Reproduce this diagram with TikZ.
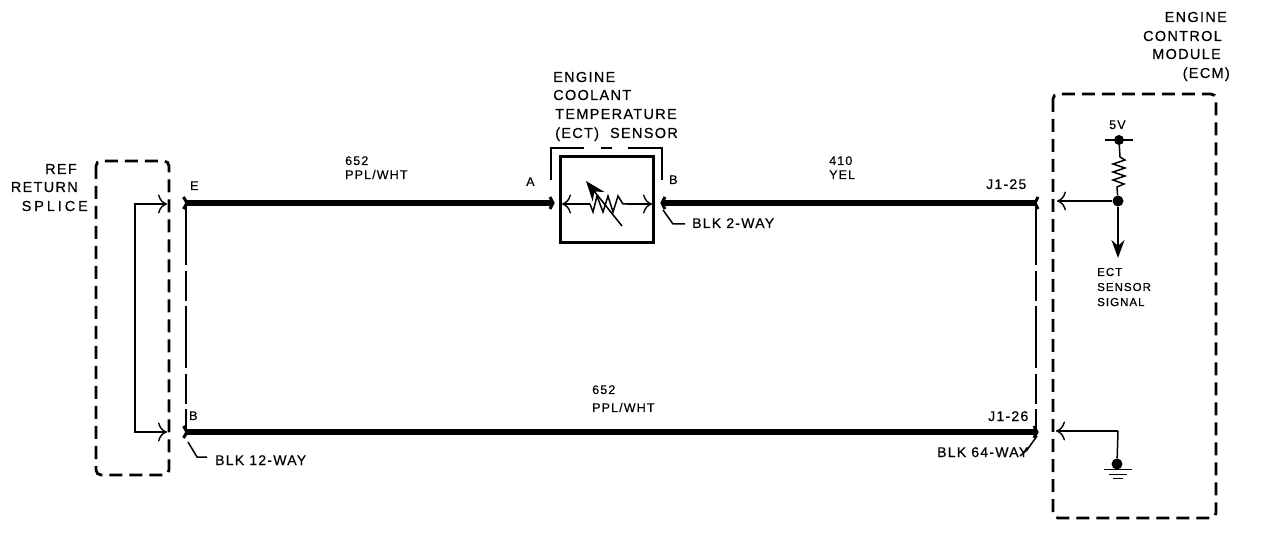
\documentclass[tikz,border=0pt]{standalone}
\usepackage{fontspec}
\setmainfont[LetterSpace=9,FakeBold=0.5]{Liberation Sans}
\usetikzlibrary{arrows.meta}
\tikzset{
  x=1pt,y=-1pt,
  wire/.style={line width=6pt},
  thin line/.style={line width=1.5pt},
  module/.style={line width=2.8pt,dash pattern=on 13pt off 7pt,rounded corners=5pt},
  harness/.style={line width=1.6pt,dash pattern=on 62pt off 6pt on 30pt off 5pt},
  openarrow/.style={thin line,-{To[length=9pt,width=19pt,line width=1.4pt]}},
  chev/.style={line width=3pt},
  lbl/.style={inner sep=0pt,font=\fontsize{12.5}{14}\selectfont,anchor=base west},
  lblw/.style={inner sep=0pt,font=\fontsize{14}{16}\selectfont,anchor=base west},
  lbln/.style={inner sep=0pt,font=\fontsize{11.5}{14}\selectfont,anchor=base west},
  biglbl/.style={inner sep=0pt,font=\fontsize{14.5}{17}\selectfont,anchor=base west},
  dot/.style={circle,fill=black,inner sep=0pt,minimum size=11pt},
}
\begin{document}
\begin{tikzpicture}
\useasboundingbox (0,0) rectangle (1264,534);
% terminal coordinates
\coordinate (E) at (186,203);
\coordinate (A) at (551,203);
\coordinate (SB) at (662,203);
\coordinate (J25) at (1036,203);
\coordinate (BL) at (186,432);
\coordinate (J26) at (1036,432);
% dashed modules
\draw[module] (96,161) rectangle (169,475);
\draw[module] (1053,94) rectangle (1216,518);
% wires
\draw[wire] (E) -- (A);
\draw[wire] (SB) -- (J25);
\draw[wire] (BL) -- (J26);
\draw[harness] (E) -- (BL);
\draw[harness] (J25) -- (J26);
% chevrons at connectors
\draw[chev] (183.5,197) -- (187,203) -- (183.5,209);
\draw[chev] (183.5,426) -- (187,432) -- (183.5,438);
\draw[chev] (550,197) -- (553,203) -- (550,209);
\draw[chev] (665,197) -- (662,203) -- (665,209);
\draw[chev] (1038,197) -- (1035,203) -- (1038,209);
\draw[chev] (1034,426) -- (1037,432) -- (1034,438);
% splice
\coordinate (SpA) at (167,204);
\coordinate (SpB) at (167,432);
\draw[openarrow] (135,204) -- (SpA);
\draw[openarrow] (135,432) -- (SpB);
\draw[thin line] (135,203.3) -- (135,432.7);
% sensor
\node[draw,line width=3pt,minimum width=93pt,minimum height=86pt,inner sep=0pt] (sensor) at (606.5,200) {};
\draw[line width=1.5pt] (551,180) -- (551,148) -- (584,148) (601,148) -- (612,148) (628,148) -- (662,148) -- (662,180);
\draw[thin line,-{To[length=9pt,width=19pt,line width=1.4pt]}] (590,204) -- (562,204);
\draw[thin line,-{To[length=9pt,width=19pt,line width=1.4pt]}] (627,204) -- (652,204);
\draw[thin line] (590,204) -- (593,212) -- (597,196) -- (603,212) -- (608,196) -- (613,212) -- (618,196) -- (623,204) -- (627,204);
\draw[thin line,-{Stealth[length=20pt,width=15pt]}] (622,226) -- (586,181);
% leaders
\draw[thin line] (663,210) -- (673,224) -- (685,224);
\draw[thin line] (188,442) -- (197,457) -- (207,457);
\draw[thin line] (1037,436) -- (1027,450) -- (1020,456);
% ECM internals
\node[dot,minimum size=10pt] (fivev) at (1119,140) {};
\draw[thin line] (1105,140) -- (1133,140);
\node[dot] (junc) at (1118,201) {};
\draw[thin line] (fivev) -- (1120,157) -- (1125,160) -- (1113,164) -- (1125,168) -- (1113,172) -- (1125,176) -- (1113,180) -- (1124,184) -- (1117,187) -- (junc);
\draw[openarrow] (junc) -- (1057,201);
\draw[line width=1.8pt,-{Stealth[length=18pt,width=13pt]}] (junc) -- (1118,258);
\coordinate (GT) at (1118,431);
\draw[openarrow] (GT) -- (1056,431);
\node[dot] (gnd) at (1117,464) {};
\draw[thin line] (GT) -- (gnd);
\draw[thin line] (1104,469.5) -- (1132,469.5);
\draw[line width=1pt] (1109,474) -- (1127,474);
\draw[line width=1pt] (1113,478.5) -- (1123,478.5);
% labels
\node[biglbl] (t1) at (553,82) {ENGINE};
\node[biglbl] (t2) at (553,100) {COOLANT};
\node[biglbl] (t3) at (555,119) {TEMPERATURE};
\node[biglbl] (t4) at (555,138) {(ECT)\hspace{11pt}SENSOR};
\node[biglbl,anchor=base east] (e1) at (1227,22) {ENGINE};
\node[biglbl,anchor=base east] (e2) at (1222,41) {CONTROL};
\node[biglbl,anchor=base east] (e3) at (1221,59) {MODULE};
\node[biglbl,anchor=base east] (e4) at (1230,78) {(ECM)};
\node[biglbl,anchor=base east] (r1) at (77,174) {REF};
\node[biglbl,anchor=base east] (r2) at (78,192) {RETURN};
\node[biglbl,anchor=base east] (r3) at (88,211) {\addfontfeature{LetterSpace=20}SPLICE};
\node[lbl] (w1) at (345,165) {652};
\node[lbl] (w1b) at (345,179) {PPL/WHT};
\node[lbl] (w2) at (829,165) {410};
\node[lbl] (w2b) at (829,179) {YEL};
\node[lbl] (w3) at (592,394) {652};
\node[lbl] (w3b) at (592,412) {PPL/WHT};
\node[lbl] (lE) at (190,190) {E};
\node[lbl] (lA) at (526,186) {A};
\node[lbl] (lB) at (669,184) {B};
\node[lbl] (lBb) at (189,420) {B};
\node[lblw] (lj25) at (986,189) {J1-25};
\node[lblw] (lj26) at (988,421) {J1-26};
\node[lblw] (b2) at (692,228) {BLK 2-WAY};
\node[lblw] (b12) at (215,465) {BLK 12-WAY};
\node[lblw] (b64) at (937,457) {BLK 64-WAY};
\node[lbl] (v5) at (1109,129) {5V};
\node[lbln] (s1) at (1097,276) {ECT};
\node[lbln] (s2) at (1097,291) {SENSOR};
\node[lbln] (s3) at (1097,306) {SIGNAL};
\end{tikzpicture}
\end{document}
